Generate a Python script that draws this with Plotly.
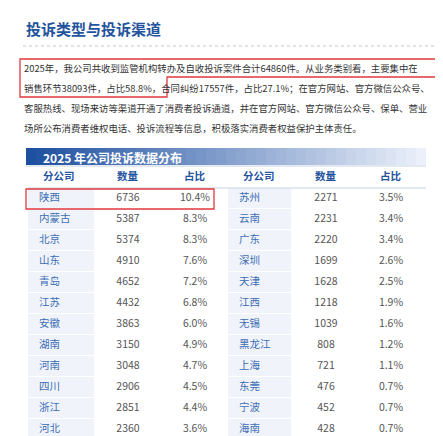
import plotly.graph_objects as go

# 2025年公司投诉数据分布
left_names = ["陕西", "内蒙古", "北京", "山东", "青岛", "江苏", "安徽", "湖南", "河南", "四川", "浙江", "河北"]
left_counts = [6736, 5387, 5374, 4910, 4652, 4432, 3863, 3150, 3048, 2906, 2851, 2360]
left_share = ["10.4%", "8.3%", "8.3%", "7.6%", "7.2%", "6.8%", "6.0%", "4.9%", "4.7%", "4.5%", "4.4%", "3.6%"]
right_names = ["苏州", "云南", "广东", "深圳", "天津", "江西", "无锡", "黑龙江", "上海", "东莞", "宁波", "海南"]
right_counts = [2271, 2231, 2220, 1699, 1628, 1218, 1039, 808, 721, 476, 452, 428]
right_share = ["3.5%", "3.4%", "3.4%", "2.6%", "2.5%", "1.9%", "1.6%", "1.2%", "1.1%", "0.7%", "0.7%", "0.7%"]
headers = ["分公司", "数量", "占比"]

title = "投诉类型与投诉渠道"
para = [
    "2025年，我公司共收到监管机构转办及自收投诉案件合计64860件。从业务类别看，主要集中在",
    "销售环节38093件，占比58.8%，合同纠纷17557件，占比27.1%；在官方网站、官方微信公众号、",
    "客服热线、现场来访等渠道开通了消费者投诉通道，并在官方网站、官方微信公众号、保单、营业",
    "场所公布消费者维权电话、投诉流程等信息，积极落实消费者权益保护主体责任。",
]
banner = "2025 年公司投诉数据分布"

FONT = "Noto Sans CJK SC"
BLUE = "#24539e"
rows_y = [190 + 21 * i for i in range(len(left_names))]

fig = go.Figure()
shapes = []

# name column backgrounds
for y in rows_y:
    shapes.append(dict(type="rect", x0=20, x1=86, y0=y - 10, y1=y + 10, fillcolor="#f0f4fa", line_width=0, layer="below"))
    shapes.append(dict(type="rect", x0=220, x1=283, y0=y - 10, y1=y + 10, fillcolor="#f0f4fa", line_width=0, layer="below"))

# banner gradient
n = 40
for i in range(n):
    t = i / (n - 1)
    r = int(30 + (235 - 30) * t)
    g = int(80 + (240 - 80) * t)
    b = int(160 + (250 - 160) * t)
    shapes.append(dict(type="rect", x0=18 + i * 10, x1=28 + i * 10, y0=140, y1=157,
                       fillcolor=f"rgb({r},{g},{b})", line_width=0, layer="below"))
shapes.append(dict(type="line", x0=18, x1=418, y0=158, y1=158, line=dict(color="#c9d3e3", width=1)))

shapes.append(dict(type="line", x0=15, x1=432, y0=38, y1=38, line=dict(color="#c8c8c8", width=1, dash="dot")))
shapes.append(dict(type="line", x0=20, x1=418, y0=180, y1=180, line=dict(color="#c9d3e3", width=1)))
shapes.append(dict(type="line", x0=20, x1=418, y0=432, y1=432, line=dict(color="#c9d3e3", width=1)))

# red highlight boxes
shapes.append(dict(type="path", path="M 12 51 L 433 51 L 433 69 L 159 69 L 159 89 L 12 89 Z",
                   line=dict(color="#e0393e", width=1.3)))
shapes.append(dict(type="rect", x0=18, x1=206, y0=181, y1=201, line=dict(color="#e0393e", width=1.3)))

annotations = [dict(x=16, y=20, text="<b>" + title + "</b>", showarrow=False, xanchor="left",
                    font=dict(family=FONT, size=15, color=BLUE)),
               dict(x=33, y=149, text="<b>" + banner + "</b>", showarrow=False, xanchor="left",
                    font=dict(family=FONT, size=12, color="white"))]
for i, line in enumerate(para):
    annotations.append(dict(x=14, y=60 + 20 * i, text=line, showarrow=False, xanchor="left",
                            font=dict(family=FONT, size=9.4, color="#333333")))

# header row
hx = [(33, "left"), (120, "center"), (187, "center"), (233, "left"), (318, "center"), (383, "center")]
for (x, anc), h in zip(hx, headers * 2):
    annotations.append(dict(x=x, y=167, text="<b>" + h + "</b>", showarrow=False, xanchor=anc,
                            font=dict(family=FONT, size=10.5, color=BLUE)))

def col(x, y, text, color, anchor):
    fig.add_trace(go.Scatter(x=[x] * len(text), y=y, text=text, mode="text", textposition=anchor,
                             textfont=dict(family=FONT, size=10.5, color=color), hoverinfo="skip"))

col(31, rows_y, left_names, "#3d6db5", "middle right")
col(120, rows_y, [str(v) for v in left_counts], "#555555", "middle center")
col(187, rows_y, left_share, "#555555", "middle center")
col(231, rows_y, right_names, "#3d6db5", "middle right")
col(318, rows_y, [str(v) for v in right_counts], "#555555", "middle center")
col(383, rows_y, right_share, "#555555", "middle center")

fig.update_layout(width=443, height=436, margin=dict(l=0, r=0, t=0, b=0),
                  paper_bgcolor="white", plot_bgcolor="white", showlegend=False,
                  shapes=shapes, annotations=annotations,
                  xaxis=dict(range=[0, 443], visible=False, fixedrange=True),
                  yaxis=dict(range=[436, 0], visible=False, fixedrange=True))
fig.write_html("out.html")
